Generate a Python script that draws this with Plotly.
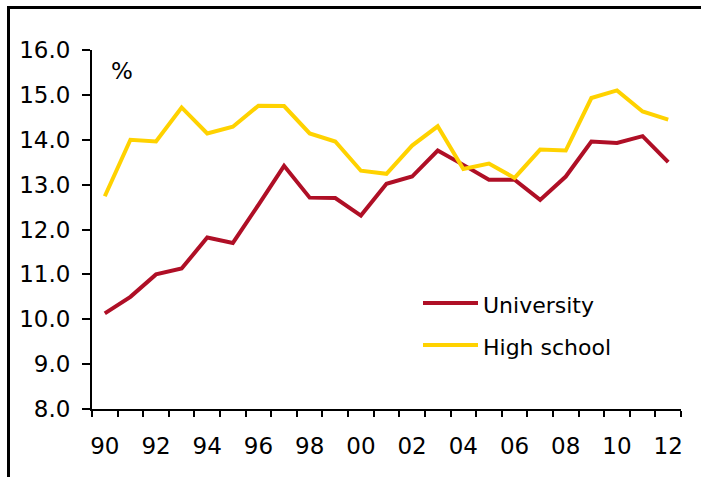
import plotly.graph_objects as go

years = list(range(1990, 2013))
university = [10.13, 10.50, 11.00, 11.13, 11.82, 11.70, 12.55, 13.42, 12.71, 12.70,
              12.31, 13.02, 13.18, 13.76, 13.44, 13.11, 13.11, 12.66, 13.18, 13.96,
              13.93, 14.08, 13.50]
high_school = [12.74, 14.00, 13.96, 14.72, 14.14, 14.29, 14.76, 14.75, 14.14, 13.96,
               13.31, 13.24, 13.87, 14.30, 13.35, 13.47, 13.15, 13.78, 13.76, 14.93,
               15.10, 14.63, 14.45]
tick_years = list(range(1990, 2013, 2))
tick_labels = [f"{y % 100:02d}" for y in tick_years]

RED = "#AF0F26"
YELLOW = "#FFD200"
FONT = "DejaVu Sans"

W, H = 701, 477
L, R, T, B = 92, 20, 50, 68
PW, PH = W - L - R, H - T - B


def px(x):
    return (x - L) / PW


def py(y):
    return (H - B - y) / PH


fig = go.Figure()
fig.add_trace(go.Scatter(x=years, y=university, mode="lines", name="University",
                         line=dict(color=RED, width=4), showlegend=False))
fig.add_trace(go.Scatter(x=years, y=high_school, mode="lines", name="High school",
                         line=dict(color=YELLOW, width=4), showlegend=False))

shapes = [
    # outer frame (left and top)
    dict(type="line", xref="paper", yref="paper", x0=px(8.5), x1=px(8.5), y0=py(6), y1=py(490),
         line=dict(color="black", width=3)),
    dict(type="line", xref="paper", yref="paper", x0=px(7), x1=px(710), y0=py(7.5), y1=py(7.5),
         line=dict(color="black", width=3)),
    # legend samples
    dict(type="line", xref="paper", yref="paper", x0=px(423), x1=px(478), y0=py(303), y1=py(303),
         line=dict(color=RED, width=4)),
    dict(type="line", xref="paper", yref="paper", x0=px(423), x1=px(478), y0=py(345), y1=py(345),
         line=dict(color=YELLOW, width=4)),
]

annotations = [
    dict(text="%", xref="paper", yref="paper", x=px(122), y=py(71), showarrow=False,
         xanchor="center", yanchor="middle", font=dict(family=FONT, size=23, color="black")),
    dict(text="University", xref="paper", yref="paper", x=px(481), y=py(305), showarrow=False,
         xanchor="left", yanchor="middle", font=dict(family=FONT, size=22, color="black")),
    dict(text="High school", xref="paper", yref="paper", x=px(481), y=py(347), showarrow=False,
         xanchor="left", yanchor="middle", font=dict(family=FONT, size=22, color="black")),
]

fig.update_layout(
    width=W, height=H,
    margin=dict(l=L, r=R, t=T, b=B),
    paper_bgcolor="white", plot_bgcolor="white",
    font=dict(family=FONT, size=23, color="black"),
    shapes=shapes, annotations=annotations,
    showlegend=False,
)
fig.update_xaxes(
    range=[1989.5, 2012.5], tickmode="array", tickvals=tick_years, ticktext=tick_labels,
    ticks="", showgrid=False, zeroline=False, showline=True, linecolor="black", linewidth=2,
    tickfont=dict(family=FONT, size=23, color="black"), ticklabelstandoff=15,
    minor=dict(tick0=1989.5, dtick=1, ticks="outside", ticklen=6, tickwidth=2,
               tickcolor="black", showgrid=False),
)
fig.update_yaxes(
    range=[8, 16], dtick=1, tick0=8, tickformat=".1f", ticks="outside", ticklen=8,
    tickwidth=2, tickcolor="black", showgrid=False, zeroline=False, showline=True,
    linecolor="black", linewidth=2, tickfont=dict(family=FONT, size=23, color="black"),
    ticklabelstandoff=7,
)

fig.write_html("out.html", config={"displayModeBar": False},
               post_script="document.body.style.margin='0';document.body.style.overflow='hidden';")
